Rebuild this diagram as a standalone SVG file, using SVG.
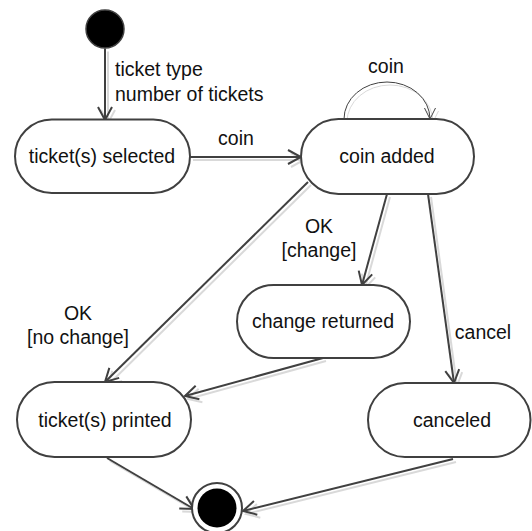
<svg xmlns="http://www.w3.org/2000/svg" width="532" height="531" viewBox="0 0 532 531">
  <style>
    .state { fill: #ffffff; stroke: #404040; stroke-width: 2; }
    .edge { fill: none; stroke: #404040; stroke-width: 2; }
    .thin { fill: none; stroke: #404040; stroke-width: 1; }
    text { font-family: "Liberation Sans", Arial, sans-serif; font-size: 19.5px; fill: #111111; }
    .c { text-anchor: middle; }
  </style>
  <defs>
    <marker id="arrow" viewBox="-15 -9 17 18" refX="0" refY="0" markerWidth="17" markerHeight="18" markerUnits="userSpaceOnUse" orient="auto">
      <path d="M-13,-7 L0,0 L-13,7" fill="none" stroke="#404040" stroke-width="2"/>
    </marker>
    <marker id="arrowThin" viewBox="-13 -7 15 14" refX="0" refY="0" markerWidth="15" markerHeight="14" markerUnits="userSpaceOnUse" orient="auto">
      <path d="M-11,-5.5 L0,0 L-11,5.5" fill="none" stroke="#404040" stroke-width="1"/>
    </marker>
    <filter id="shadow" x="-10%" y="-10%" width="120%" height="120%">
      <feDropShadow dx="3" dy="3" stdDeviation="0.6" flood-color="#000000" flood-opacity="0.15"/>
    </filter>
  </defs>

  <g id="connectors" filter="url(#shadow)">
    <line class="edge" x1="105" y1="48.5" x2="105" y2="120" marker-end="url(#arrow)"/>
    <line class="edge" x1="190" y1="157" x2="301" y2="157" marker-end="url(#arrow)"/>
    <path class="thin" d="M344,119 A43,37 0 0 1 430,119" marker-end="url(#arrowThin)"/>
    <line class="edge" x1="308" y1="182" x2="105" y2="382" marker-end="url(#arrow)"/>
    <line class="edge" x1="387" y1="194" x2="362" y2="285" marker-end="url(#arrow)"/>
    <line class="edge" x1="428" y1="194" x2="454" y2="383" marker-end="url(#arrow)"/>
    <line class="edge" x1="323" y1="358" x2="185" y2="396" marker-end="url(#arrow)"/>
    <line class="edge" x1="107" y1="458" x2="194" y2="509" marker-end="url(#arrow)"/>
    <line class="edge" x1="453" y1="459" x2="243" y2="511" marker-end="url(#arrow)"/>
  </g>

  <g id="labels">
    <text x="115" y="76">ticket type</text>
    <text x="115" y="100.5">number of tickets</text>
    <text class="c" x="236" y="145">coin</text>
    <text class="c" x="386" y="72.5">coin</text>
    <text class="c" x="319" y="233">OK</text>
    <text class="c" x="319" y="257">[change]</text>
    <text class="c" x="78" y="320">OK</text>
    <text class="c" x="78" y="344">[no change]</text>
    <text class="c" x="483" y="339">cancel</text>
  </g>

  <g id="initial">
    <circle cx="105" cy="29" r="19" fill="#000000" stroke="#404040" stroke-width="1.5"/>
  </g>

  <g id="ticket-selected">
    <rect class="state" x="15" y="119.5" width="175" height="73.5" rx="36.75"/>
    <text class="c" x="102" y="163">ticket(s) selected</text>
  </g>

  <g id="coin-added">
    <rect class="state" x="301" y="119" width="173" height="75" rx="37.5"/>
    <text class="c" x="387" y="163">coin added</text>
  </g>

  <g id="change-returned">
    <rect class="state" x="237" y="285" width="173" height="73" rx="36.5"/>
    <text class="c" x="323" y="328">change returned</text>
  </g>

  <g id="ticket-printed">
    <rect class="state" x="17" y="382" width="174" height="75" rx="37.5"/>
    <text class="c" x="105" y="426.5">ticket(s) printed</text>
  </g>

  <g id="canceled">
    <rect class="state" x="368" y="383" width="162.5" height="74" rx="37"/>
    <text class="c" x="452" y="426.5">canceled</text>
  </g>

  <g id="final">
    <circle cx="217" cy="508" r="25" fill="#ffffff" stroke="#404040" stroke-width="2"/>
    <circle cx="217" cy="508" r="19.5" fill="#000000"/>
  </g>
</svg>
